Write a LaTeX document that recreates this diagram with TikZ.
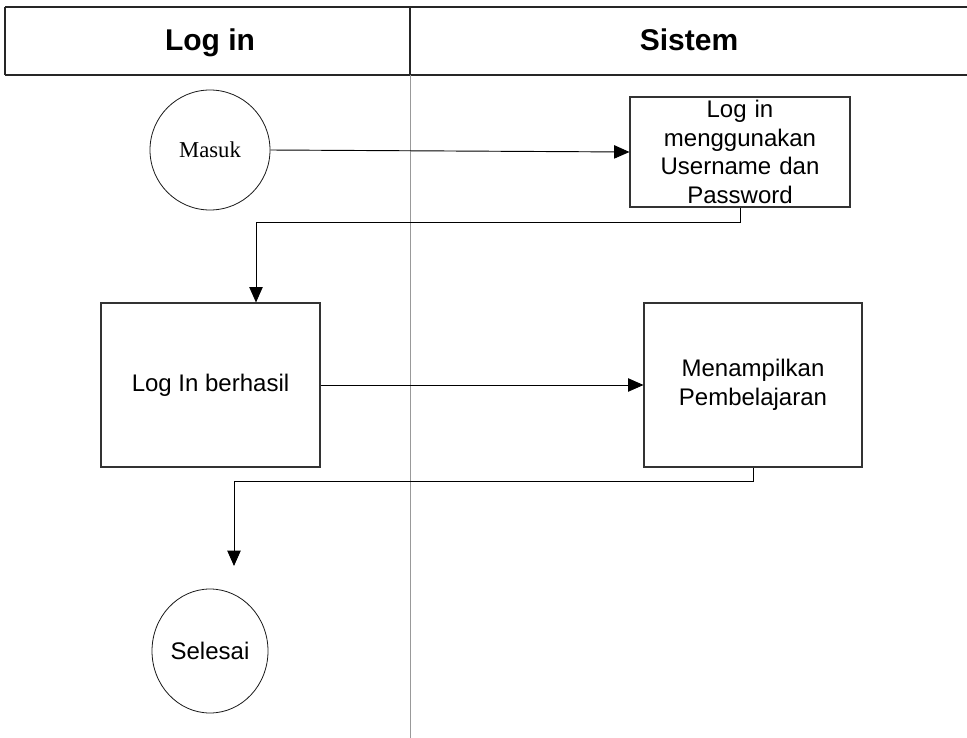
\documentclass[tikz,border=0pt]{standalone}
\usepackage{fontspec}
\setmainfont{Liberation Sans}
\newfontfamily\serifface{Liberation Serif}
\usetikzlibrary{arrows.meta,calc,shapes.geometric}
\begin{document}
\begin{tikzpicture}[x=0.75pt,y=-0.75pt,
  frame/.style={draw=black!85,line width=0.8pt},
  lane/.style={draw=black!40,line width=0.6pt},
  proc/.style={draw=black!80,line width=0.8pt,rectangle,inner sep=0pt,align=center,
    font=\fontsize{18}{21.5}\selectfont},
  term/.style={draw=black!90,line width=0.6pt,ellipse,inner sep=0pt},
  flow/.style={draw=black,line width=0.7pt,-{Triangle[length=11.5pt,width=10pt]}},
  title/.style={font=\bfseries\fontsize{22.5}{26}\selectfont,anchor=base}]
\useasboundingbox (0,0) rectangle (967,738);
% swimlane header and divider
\draw[frame] (5,7) -- (967,7);
\draw[frame] (5,75) -- (967,75);
\draw[frame] (5,7) -- (5,75);
\draw[frame] (410,7) -- (410,75);
\draw[lane] (410,75) -- (410,738);
\node[title] (hlog) at (210,50.5) {Log in};
\node[title] (hsys) at (689,50.5) {Sistem};
% activities
\node[term,minimum width=90pt,minimum height=90pt,
  font=\serifface\fontsize{17}{20}\selectfont] (masuk) at (210,150) {Masuk};
\node[proc,minimum width=165pt,minimum height=82.5pt,text width=160pt] (b1) at (740,152)
  {Log in\\menggunakan\\Username dan\\Password};
\node[proc,minimum width=164.25pt,minimum height=123pt] (b2) at (210.5,385) {Log In berhasil};
\node[proc,minimum width=163.5pt,minimum height=123pt] (b3) at (753,385)
  {Menampilkan\\Pembelajaran};
\node[term,minimum width=87pt,minimum height=93pt,
  font=\fontsize{18}{20}\selectfont] (end) at (210,651) {Selesai};
% connectors
\coordinate (endtip) at (234,566);
\draw[flow] (masuk.east) -- (b1.west);
\draw[flow] (b1.south) -- ++(0,15) -| ($(b2.north)+(45.5,0)$);
\draw[flow] (b2.east) -- (b3.west);
\draw[flow] (b3.south) -- ++(0,14) -| (endtip);
\end{tikzpicture}
\end{document}
